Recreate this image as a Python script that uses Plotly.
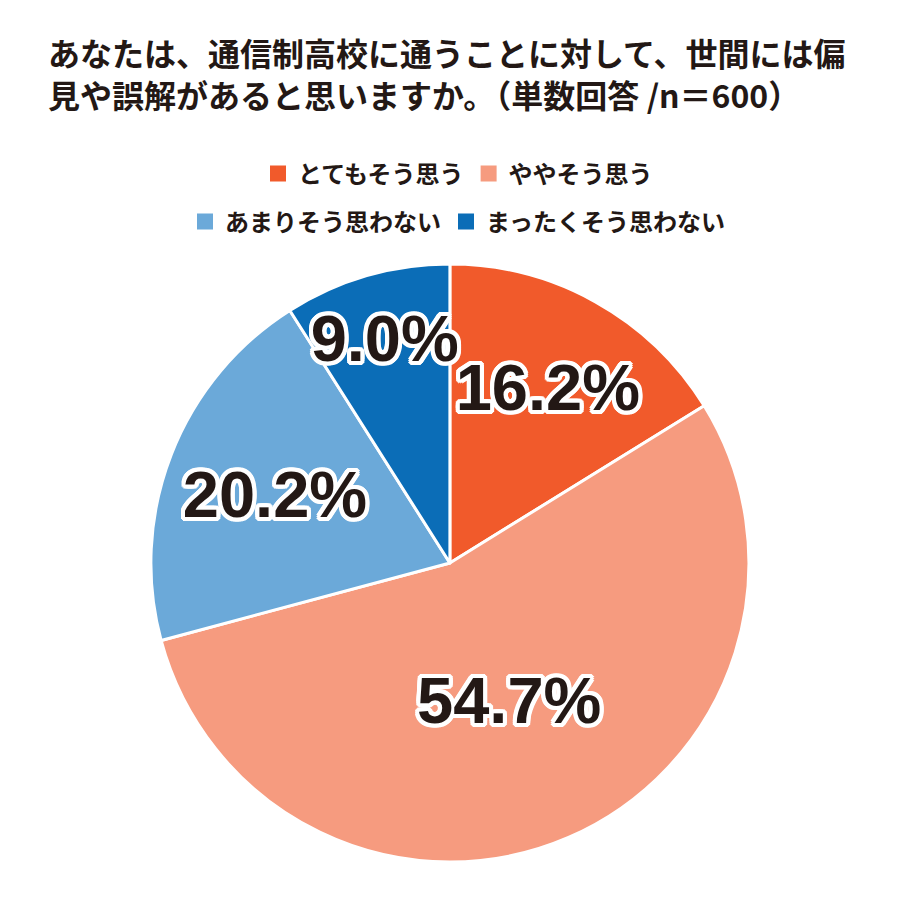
import plotly.graph_objects as go

categories = ['とてもそう思う', 'ややそう思う', 'あまりそう思わない', 'まったくそう思わない']
shares = [16.2, 54.7, 20.2, 9.0]
colors = ['#F15A2B', '#F69B7F', '#6BA9D9', '#0B6DB7']
title_text = 'あなたは、通信制高校に通うことに対して、世間には偏<br>見や誤解があると思いますか。（単数回答 /n＝600）'

outline = ', '.join(f'{dx}px {dy}px 0 #fff' for dx, dy in
                    [(-4, 0), (4, 0), (0, -4), (0, 4), (-3, -3), (3, -3), (-3, 3), (3, 3),
                     (-2, -4), (2, -4), (-2, 4), (2, 4), (-4, -2), (4, -2), (-4, 2), (4, 2)])

fig = go.Figure()
fig.add_trace(go.Pie(
    labels=categories, values=shares, sort=False, direction='clockwise', rotation=0,
    domain=dict(x=[0, 0.982], y=[0, 1]),
    marker=dict(colors=colors, line=dict(color='white', width=3)),
    texttemplate='%{value:.1f}%', textposition='inside', insidetextorientation='horizontal',
    textfont=dict(family='Liberation Sans Narrow, Liberation Sans, Arial', size=65,
                  color='#231815', weight='bold', shadow=outline),
    showlegend=False, hoverinfo='label+value',
))

# legend rows: two per row, each row centred on its own
for i, (name, col) in enumerate(zip(categories, colors)):
    fig.add_trace(go.Scatter(
        x=[None], y=[None], mode='markers', name=name,
        marker=dict(symbol='square', size=18, color=col),
        legend='legend' if i < 2 else 'legend2',
    ))

legend_style = dict(orientation='h', xref='container', yref='container', x=0.5, xanchor='center',
                    yanchor='middle', font=dict(family='Noto Sans CJK JP', size=24, color='#231815',
                                                weight='bold'),
                    itemwidth=30, tracegroupgap=0, bgcolor='rgba(0,0,0,0)')

fig.update_layout(
    width=900, height=900,
    paper_bgcolor='white', plot_bgcolor='white',
    margin=dict(l=0, r=0, t=256, b=46),
    title=dict(text=title_text, x=40 / 900, xanchor='left', xref='container',
               y=1 - 58 / 900, yanchor='top', yref='container',
               font=dict(family='Noto Sans CJK JP', size=32, color='#231815', weight='bold')),
    legend=dict(legend_style, y=1 - 166 / 900),
    legend2=dict(legend_style, y=1 - 214 / 900),
    xaxis=dict(visible=False), yaxis=dict(visible=False),
    uniformtext=dict(mode='show', minsize=65),
)

fig.write_html('out.html')
